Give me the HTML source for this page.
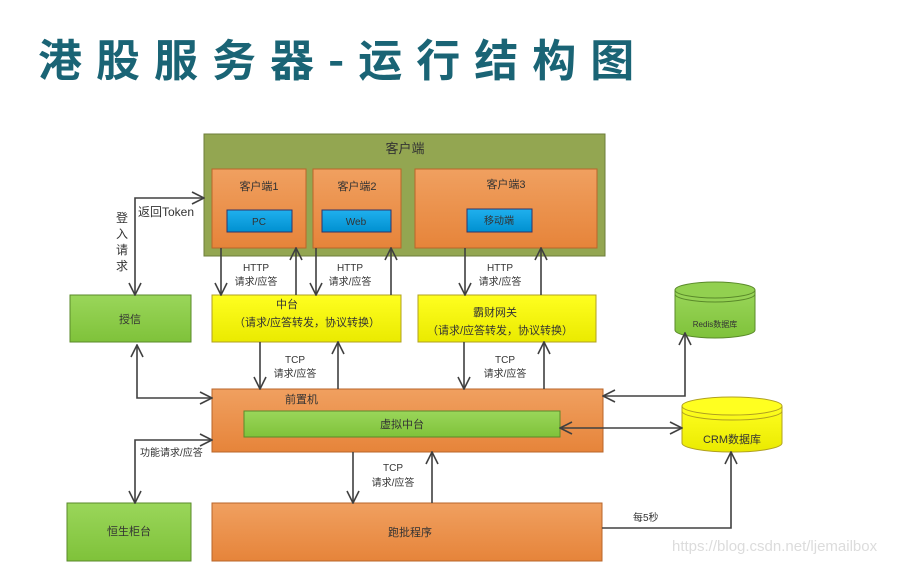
<!DOCTYPE html>
<html><head><meta charset="utf-8"><style>
body{margin:0;background:#fff;width:900px;height:564px;overflow:hidden}
svg text{font-family:"Liberation Sans","Noto Sans CJK SC",sans-serif;fill:#333}
</style></head><body>
<svg width="900" height="564" viewBox="0 0 900 564" xmlns="http://www.w3.org/2000/svg">
<defs>
<linearGradient id="og" x1="0" y1="0" x2="0" y2="1"><stop offset="0" stop-color="#f0a060"/><stop offset="1" stop-color="#e6843a"/></linearGradient>
<linearGradient id="gg" x1="0" y1="0" x2="0" y2="1"><stop offset="0" stop-color="#9ad65a"/><stop offset="1" stop-color="#7fc23a"/></linearGradient>
<linearGradient id="yg" x1="0" y1="0" x2="0" y2="1"><stop offset="0" stop-color="#ffff20"/><stop offset="1" stop-color="#eaea00"/></linearGradient>
<linearGradient id="bg" x1="0" y1="0" x2="0" y2="1"><stop offset="0" stop-color="#20b0ee"/><stop offset="1" stop-color="#0090d0"/></linearGradient>
<marker id="a" viewBox="0 0 14 14" refX="13" refY="7" markerWidth="14" markerHeight="14" markerUnits="userSpaceOnUse" orient="auto-start-reverse"><path d="M1 1 L13 7 L1 13" fill="none" stroke="#404040" stroke-width="1.6"/></marker>
</defs>
<text x="38" y="76" style="font-family:'Noto Sans CJK SC',sans-serif;font-weight:bold;font-size:44px;fill:#1a6475;letter-spacing:14px">港股服务器-运行结构图</text>

<rect x="204" y="134" width="401" height="122" fill="#93a651" stroke="#6d7d3a"/>
<text x="405" y="153" font-size="13" text-anchor="middle">客户端</text>
<rect x="212" y="169" width="94" height="79" fill="url(#og)" stroke="#b8652a"/>
<text x="259" y="190" font-size="11" text-anchor="middle">客户端1</text>
<rect x="313" y="169" width="88" height="79" fill="url(#og)" stroke="#b8652a"/>
<text x="357" y="190" font-size="11" text-anchor="middle">客户端2</text>
<rect x="415" y="169" width="182" height="79" fill="url(#og)" stroke="#b8652a"/>
<text x="506" y="188" font-size="11" text-anchor="middle">客户端3</text>
<rect x="227" y="210" width="65" height="22" fill="url(#bg)" stroke="#336"/>
<text x="259" y="225" font-size="10" text-anchor="middle">PC</text>
<rect x="322" y="210" width="69" height="22" fill="url(#bg)" stroke="#336"/>
<text x="356" y="225" font-size="10" text-anchor="middle">Web</text>
<rect x="467" y="209" width="65" height="23" fill="url(#bg)" stroke="#336"/>
<text x="499" y="224" font-size="10" text-anchor="middle">移动端</text>

<rect x="70" y="295" width="121" height="47" fill="url(#gg)" stroke="#5a8a2a"/>
<text x="130" y="323" font-size="11" text-anchor="middle">授信</text>
<rect x="212" y="295" width="189" height="47" fill="url(#yg)" stroke="#b0a020"/>
<text x="287" y="308" font-size="11" text-anchor="middle">中台</text>
<text x="307" y="326" font-size="11" text-anchor="middle">（请求/应答转发，协议转换）</text>
<rect x="418" y="295" width="178" height="47" fill="url(#yg)" stroke="#b0a020"/>
<text x="495" y="316" font-size="11" text-anchor="middle">霸财网关</text>
<text x="500" y="334" font-size="11" text-anchor="middle">（请求/应答转发，协议转换）</text>

<rect x="212" y="389" width="391" height="63" fill="url(#og)" stroke="#b8652a"/>
<text x="285" y="403" font-size="11">前置机</text>
<rect x="244" y="411" width="316" height="26" fill="url(#gg)" stroke="#5a8a2a"/>
<text x="402" y="428" font-size="11" text-anchor="middle">虚拟中台</text>

<rect x="67" y="503" width="124" height="58" fill="url(#gg)" stroke="#5a8a2a"/>
<text x="129" y="535" font-size="11" text-anchor="middle">恒生柜台</text>
<rect x="212" y="503" width="390" height="58" fill="url(#og)" stroke="#b8652a"/>
<text x="410" y="536" font-size="11" text-anchor="middle">跑批程序</text>

<path d="M675 290 V330 A40 8 0 0 0 755 330 V290" fill="url(#gg)" stroke="#5a8a2a"/>
<ellipse cx="715" cy="290" rx="40" ry="8" fill="#92d050" stroke="#5a8a2a"/>
<path d="M675 294 A40 8 0 0 0 755 294" fill="none" stroke="#5a8a2a"/>
<text x="715" y="327" font-size="8" text-anchor="middle">Redis数据库</text>
<path d="M682 406 V443 A50 9 0 0 0 782 443 V406" fill="url(#yg)" stroke="#b0a020"/>
<ellipse cx="732" cy="406" rx="50" ry="9" fill="#ffff20" stroke="#b0a020"/>
<path d="M682 411 A50 9 0 0 0 782 411" fill="none" stroke="#b0a020"/>
<text x="732" y="443" font-size="11" text-anchor="middle">CRM数据库</text>

<g stroke="#404040" stroke-width="1.6" fill="none">
<path d="M204 198 H135 V295" marker-start="url(#a)" marker-end="url(#a)"/>
<path d="M137 345 V398 H212" marker-start="url(#a)" marker-end="url(#a)"/>
<path d="M221 248 V295" marker-end="url(#a)"/>
<path d="M296 295 V248" marker-end="url(#a)"/>
<path d="M316 248 V295" marker-end="url(#a)"/>
<path d="M391 295 V248" marker-end="url(#a)"/>
<path d="M465 248 V295" marker-end="url(#a)"/>
<path d="M541 295 V248" marker-end="url(#a)"/>
<path d="M260 342 V389" marker-end="url(#a)"/>
<path d="M338 389 V342" marker-end="url(#a)"/>
<path d="M464 342 V389" marker-end="url(#a)"/>
<path d="M544 389 V342" marker-end="url(#a)"/>
<path d="M603 396 H685 V333" marker-start="url(#a)" marker-end="url(#a)"/>
<path d="M560 428 H682" marker-start="url(#a)" marker-end="url(#a)"/>
<path d="M212 440 H135 V503" marker-start="url(#a)" marker-end="url(#a)"/>
<path d="M353 452 V503" marker-end="url(#a)"/>
<path d="M432 503 V452" marker-end="url(#a)"/>
<path d="M602 528 H731 V452" marker-end="url(#a)"/>
</g>

<g font-size="10" text-anchor="middle">
<text x="256" y="271">HTTP</text><text x="256" y="285">请求/应答</text>
<text x="350" y="271">HTTP</text><text x="350" y="285">请求/应答</text>
<text x="500" y="271">HTTP</text><text x="500" y="285">请求/应答</text>
<text x="295" y="363">TCP</text><text x="295" y="377">请求/应答</text>
<text x="505" y="363">TCP</text><text x="505" y="377">请求/应答</text>
<text x="393" y="471">TCP</text><text x="393" y="486">请求/应答</text>
</g>
<text x="138" y="216" font-size="12">返回Token</text>
<g font-size="12" text-anchor="middle"><text x="122" y="222">登</text><text x="122" y="238">入</text><text x="122" y="254">请</text><text x="122" y="270">求</text></g>
<text x="140" y="456" font-size="10">功能请求/应答</text>
<text x="633" y="521" font-size="10">每5秒</text>
<text x="672" y="551" font-size="15" style="fill:#dcdcdc">https://blog.csdn.net/ljemailbox</text>
</svg>
</body></html>
